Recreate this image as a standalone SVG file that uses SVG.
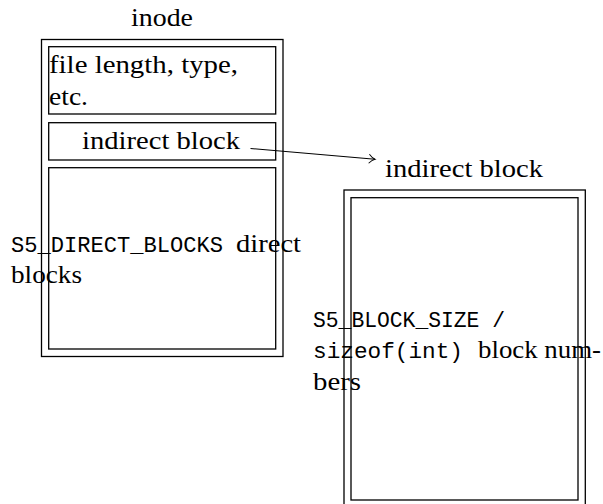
<svg xmlns="http://www.w3.org/2000/svg" width="603" height="504" viewBox="0 0 603 504">
<style>
.box{fill:none;stroke:#000;stroke-width:1.3}
.rm{font-family:"Liberation Serif",serif;font-size:26px;fill:#000}
.tt{font-family:"Liberation Mono",monospace;font-size:22.5px;fill:#000}
</style>
<defs>
<marker id="ah" markerWidth="12" markerHeight="12" refX="9" refY="6" orient="auto" markerUnits="userSpaceOnUse">
<path d="M3,1.5 Q6,5 9,6 Q6,7 3,10.5" fill="none" stroke="#000" stroke-width="1"/>
</marker>
</defs>
<rect width="603" height="504" fill="#fff"/>
<g id="inode">
<text class="rm" x="131" y="26" textLength="62" lengthAdjust="spacingAndGlyphs">inode</text>
<rect class="box" x="41.5" y="39.5" width="241.5" height="317"/>
</g>
<g id="file-info">
<rect class="box" x="48.7" y="46.7" width="227" height="67.3"/>
<text class="rm" x="49" y="73" textLength="189" lengthAdjust="spacingAndGlyphs">file length, type,</text>
<text class="rm" x="49" y="105" textLength="39" lengthAdjust="spacingAndGlyphs">etc.</text>
</g>
<g id="indirect-ptr">
<rect class="box" x="48.7" y="122.7" width="227" height="37.3"/>
<text class="rm" x="82" y="149" textLength="158" lengthAdjust="spacingAndGlyphs">indirect block</text>
</g>
<g id="direct-blocks">
<rect class="box" x="48.7" y="167.7" width="227" height="181.3"/>
<text class="tt" x="11" y="252" textLength="212" lengthAdjust="spacingAndGlyphs">S5_DIRECT_BLOCKS</text>
<text class="rm" x="236" y="252" textLength="65" lengthAdjust="spacingAndGlyphs">direct</text>
<text class="rm" x="11" y="283" textLength="71" lengthAdjust="spacingAndGlyphs">blocks</text>
</g>
<g id="indirect-block">
<text class="rm" x="385" y="177" textLength="158" lengthAdjust="spacingAndGlyphs">indirect block</text>
<rect class="box" x="344" y="190" width="241.3" height="330"/>
<rect class="box" x="351" y="197.7" width="227" height="302.3"/>
<text class="tt" x="313" y="327" textLength="192" lengthAdjust="spacingAndGlyphs">S5_BLOCK_SIZE /</text>
<text class="tt" x="313" y="358" textLength="150" lengthAdjust="spacingAndGlyphs">sizeof(int)</text>
<text class="rm" x="478" y="358" textLength="123" lengthAdjust="spacingAndGlyphs">block num-</text>
<text class="rm" x="313" y="390" textLength="48" lengthAdjust="spacingAndGlyphs">bers</text>
</g>
<g id="connectors">
<line x1="250.5" y1="148.5" x2="375" y2="159.3" stroke="#000" stroke-width="1.1" marker-end="url(#ah)"/>
</g>
</svg>
